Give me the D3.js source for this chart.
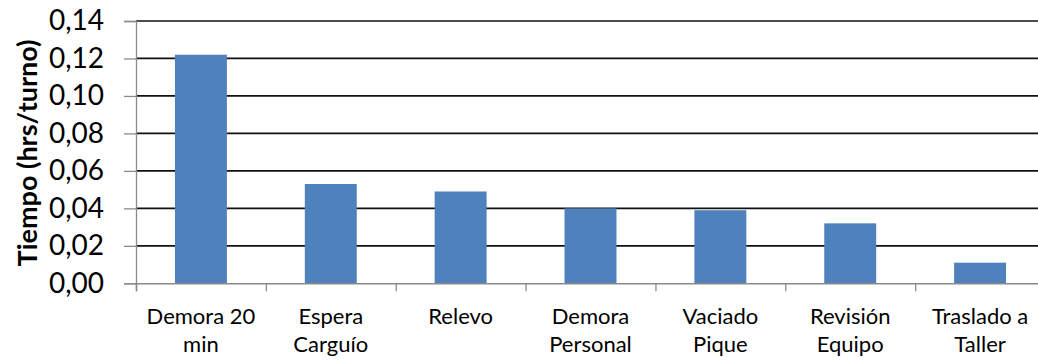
<!DOCTYPE html>
<html>
<head>
<meta charset="utf-8">
<script src="https://cdn.jsdelivr.net/npm/d3@7"></script>
<style>
  html, body { margin: 0; padding: 0; background: #fff; }
  svg { display: block; }
  text { font-family: Lato, "Open Sans", sans-serif; fill: #000; }
</style>
</head>
<body>
<svg id="chart" width="1038" height="360"></svg>
<script>
// Downtime per shift, by cause
const categories = [
  ["Demora 20", "min"],
  ["Espera", "Carguío"],
  ["Relevo"],
  ["Demora", "Personal"],
  ["Vaciado", "Pique"],
  ["Revisión", "Equipo"],
  ["Traslado a", "Taller"]
];
const values = [0.122, 0.053, 0.049, 0.040, 0.039, 0.032, 0.011];
const yTicks = [0, 0.02, 0.04, 0.06, 0.08, 0.10, 0.12, 0.14];
const yTitle = "Tiempo (hrs/turno)";

const svg = d3.select("#chart");
const plotLeft = 136, plotRight = 1045, plotTop = 21, plotBottom = 283.3;

const x = d3.scaleBand()
  .domain(d3.range(categories.length))
  .range([plotLeft, plotRight])
  .paddingInner(0.6)
  .paddingOuter(0.3);

const y = d3.scaleLinear().domain([0, 0.14]).range([plotBottom, plotTop]);
const fmt = v => d3.format(".2f")(v).replace(".", ",");

// horizontal gridlines
svg.append("g")
  .selectAll("line")
  .data(yTicks.filter(t => t > 0))
  .join("line")
  .attr("x1", plotLeft).attr("x2", plotRight)
  .attr("y1", d => y(d)).attr("y2", d => y(d))
  .attr("stroke", "#111")
  .attr("stroke-width", 1.7);

// bars
svg.append("g")
  .selectAll("rect")
  .data(values)
  .join("rect")
  .attr("x", (d, i) => x(i))
  .attr("width", x.bandwidth())
  .attr("y", d => y(d))
  .attr("height", d => y(0) - y(d))
  .attr("fill", "#4f81bd");

// y axis
const yAxis = svg.append("g")
  .attr("transform", `translate(${plotLeft},0)`)
  .call(d3.axisLeft(y).tickValues(yTicks).tickFormat(fmt).tickSize(12).tickPadding(20));
yAxis.select(".domain").attr("stroke", "#8a8a8a").attr("stroke-width", 1.3);
yAxis.selectAll(".tick line").attr("stroke", "#8a8a8a").attr("stroke-width", 1.3);
yAxis.selectAll(".tick text")
  .style("font-family", "Lato, sans-serif")
  .style("font-size", "28px")
  .attr("fill", "#000");

// x axis: category boundaries carry the tick marks
const xAxisScale = d3.scaleLinear().domain([0, categories.length]).range([plotLeft, plotRight]);
const xAxis = svg.append("g")
  .attr("transform", `translate(0,${plotBottom})`)
  .call(d3.axisBottom(xAxisScale).tickValues(d3.range(categories.length + 1)).tickSize(8).tickFormat(""));
xAxis.select(".domain").attr("stroke", "#8a8a8a").attr("stroke-width", 1.5);
xAxis.selectAll(".tick line").attr("stroke", "#8a8a8a").attr("stroke-width", 1.3);

// category labels
const labels = svg.append("g")
  .selectAll("text")
  .data(categories)
  .join("text")
  .attr("text-anchor", "middle")
  .style("font-size", "22px")
  .attr("transform", (d, i) => `translate(${x(i) + x.bandwidth() / 2},324)`);
labels.selectAll("tspan")
  .data(d => d)
  .join("tspan")
  .attr("x", 0)
  .attr("y", (d, j) => j * 27.5)
  .text(d => d);

// y axis title
svg.append("text")
  .attr("transform", "translate(37,153) rotate(-90)")
  .attr("text-anchor", "middle")
  .style("font-size", "27px")
  .style("font-weight", "bold")
  .text(yTitle);
</script>
</body>
</html>
